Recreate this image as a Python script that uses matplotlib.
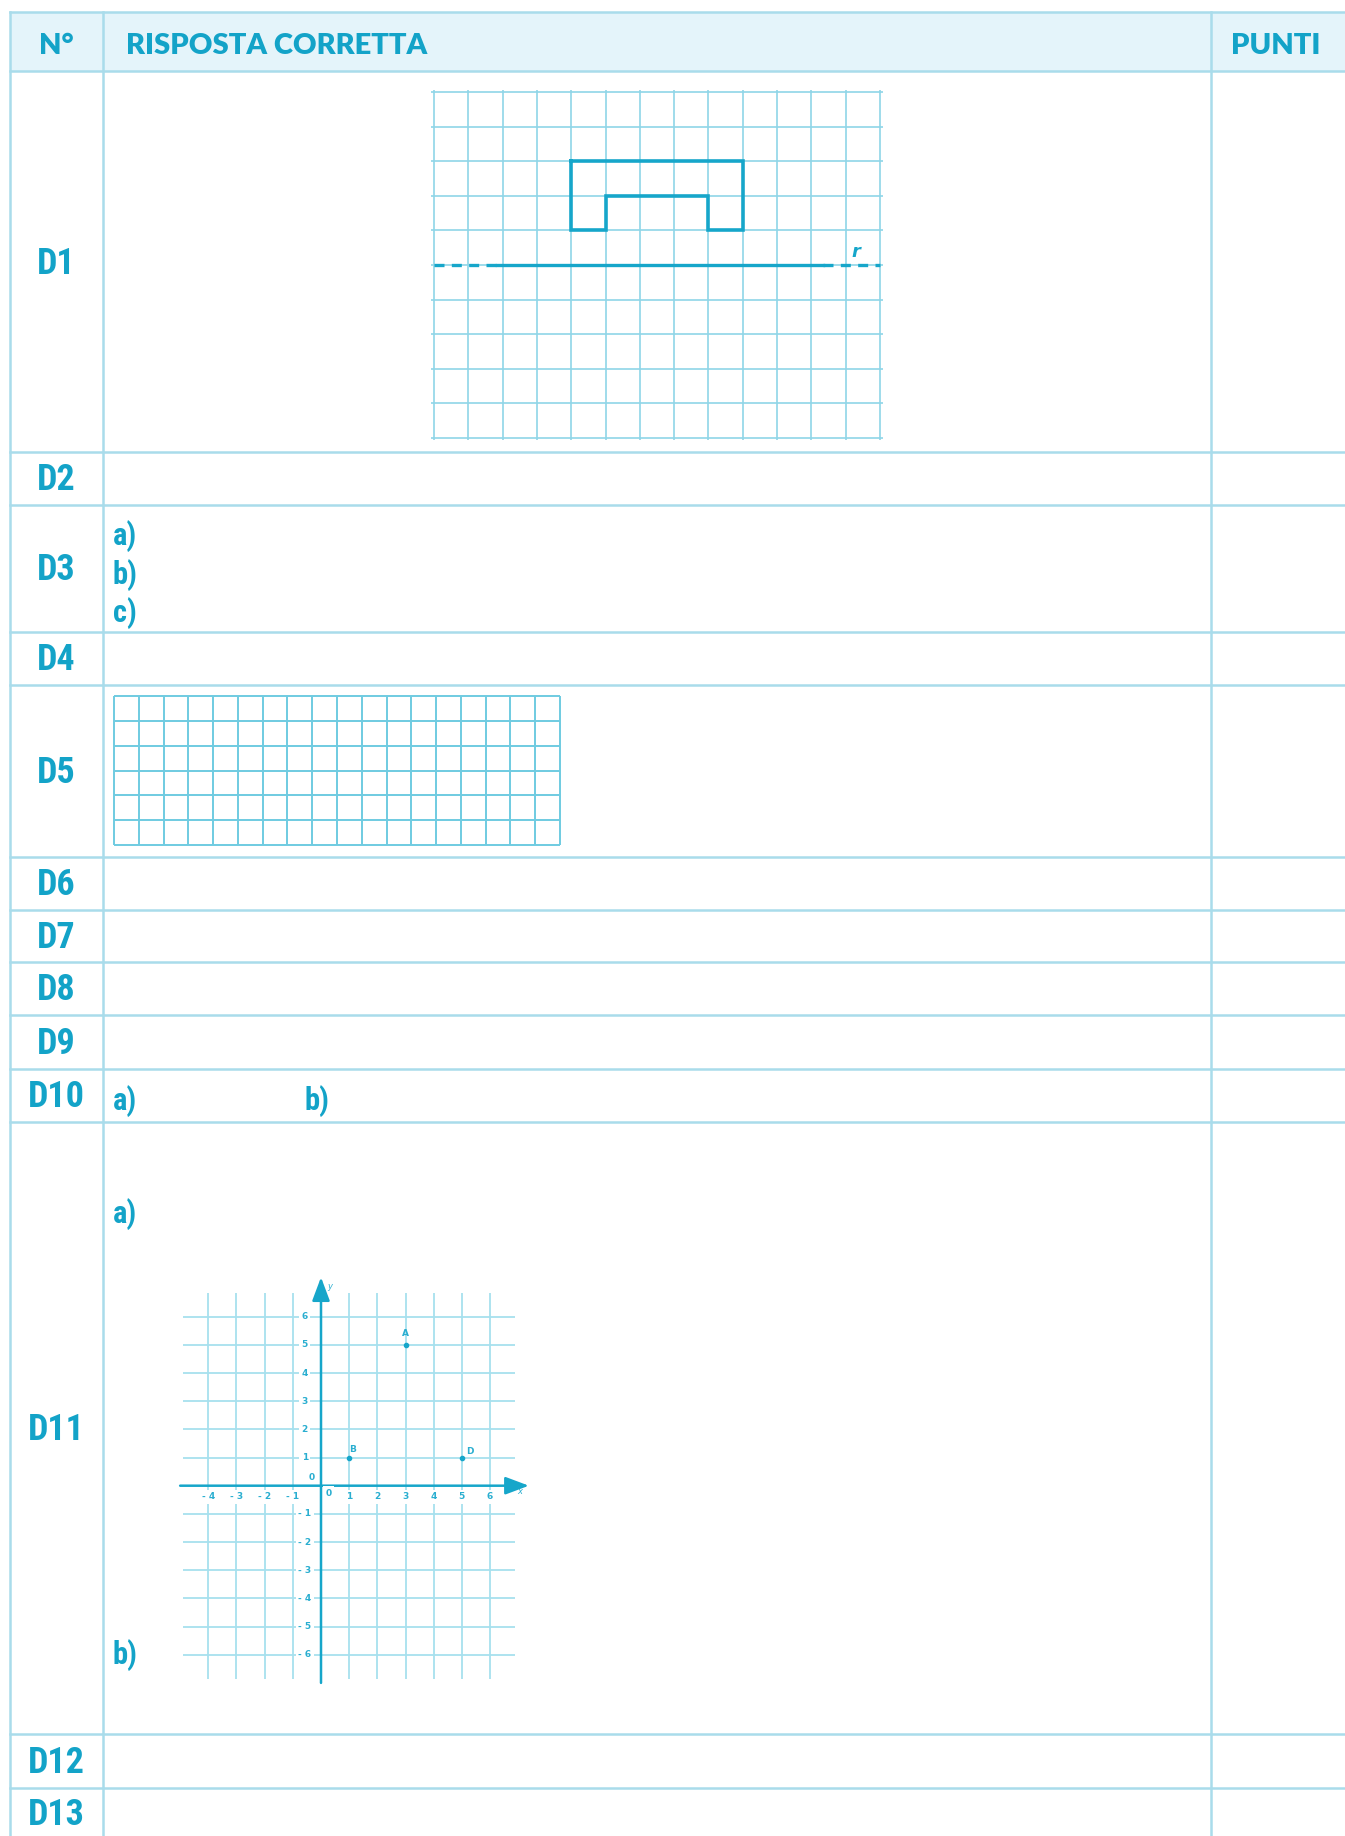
import numpy as np
import matplotlib
matplotlib.use('Agg')
import matplotlib.pyplot as plt

W, H = 1345, 1836

# --- table data ---
header = ['N°', 'RISPOSTA CORRETTA', 'PUNTI']
row_labels = ['D1', 'D2', 'D3', 'D4', 'D5', 'D6', 'D7', 'D8', 'D9', 'D10', 'D11', 'D12', 'D13']
row_edges = [11.5, 71, 452, 504.5, 632, 685, 857, 909.5, 962, 1015, 1068.5, 1121.5, 1734, 1788, 1842]
col_edges = [10, 103, 1211]

# sub answers (text, x px, y px)
sub_labels = ['a)', 'b)', 'c)', 'a)', 'b)', 'a)', 'b)']
sub_x = [113, 113, 113, 113, 305, 113, 113]
sub_y = [535, 574, 612, 1100, 1100, 1213, 1654]

# D1: figure on squared paper (grid units, y up)
d1_cols, d1_rows = 13, 10
d1_shape_x = [4, 9, 9, 8, 8, 5, 5, 4, 4]
d1_shape_y = [8, 8, 6, 6, 7, 7, 6, 6, 8]
d1_axis_y = 5

# D5: empty grid
d5_cols, d5_rows = 18, 6

# D11: cartesian plane
pt_names = ['A', 'B', 'D']
pt_x = [3, 1, 5]
pt_y = [5, 1, 1]
x_ticks = [-4, -3, -2, -1, 1, 2, 3, 4, 5, 6]
y_ticks = [-6, -5, -4, -3, -2, -1, 1, 2, 3, 4, 5, 6]

LINE = '#a9dceb'
HEAD_BG = '#e4f4fa'
TXT = '#13a3c8'
GRID = '#8fd5e8'
DARK = '#16a6ca'

fig = plt.figure(figsize=(W / 100, H / 100), dpi=100)
ax = fig.add_axes([0, 0, 1, 1])
ax.set_xlim(0, W)
ax.set_ylim(H, 0)
ax.axis('off')

# header background
ax.fill_between([col_edges[0], W], row_edges[0], row_edges[1], color=HEAD_BG, lw=0)

# table lines
for y in row_edges[:-1]:
    ax.plot([col_edges[0], W], [y, y], color=LINE, lw=1.8)
for x in col_edges:
    ax.plot([x, x], [row_edges[0], H], color=LINE, lw=1.8)

hdr_font = dict(family=['Lato', 'DejaVu Sans'], weight='heavy', color=TXT, fontsize=21, va='center')
ymid = (row_edges[0] + row_edges[1]) / 2 + 5
ax.text((col_edges[0] + col_edges[1]) / 2, ymid, header[0], ha='center', **hdr_font)
ax.text(126, ymid, header[1], ha='left', **hdr_font)
ax.text(1276, ymid, header[2], ha='center', **hdr_font)

lab_font = dict(family=['Roboto Condensed', 'DejaVu Sans'], weight='bold',
                stretch='condensed', color=TXT)
for i, lab in enumerate(row_labels):
    y0, y1 = row_edges[i + 1], row_edges[i + 2]
    yc = (y0 + y1) / 2 if i < len(row_labels) - 1 else 1813
    ax.text((col_edges[0] + col_edges[1]) / 2, yc + 2, lab, ha='center', va='center',
            fontsize=26, **lab_font)

for s, x, y in zip(sub_labels, sub_x, sub_y):
    ax.text(x, y + 1, s, ha='left', va='center', fontsize=22, **lab_font)


def inset(ox, oy, ux, uy, xlim, ylim):
    left = ox + xlim[0] * ux
    right = ox + xlim[1] * ux
    top = oy - ylim[1] * uy
    bottom = oy - ylim[0] * uy
    a = fig.add_axes([left / W, 1 - bottom / H, (right - left) / W, (bottom - top) / H])
    a.set_xlim(xlim)
    a.set_ylim(ylim)
    a.axis('off')
    return a


# --- D1 ---
a1 = inset(434, 437.7, 34.31, 34.54, (-0.3, d1_cols + 0.3), (-0.3, d1_rows + 0.3))
a1.vlines(np.arange(d1_cols + 1), -0.08, d1_rows + 0.08, color=GRID, lw=1.2)
a1.hlines(np.arange(d1_rows + 1), -0.08, d1_cols + 0.08, color=GRID, lw=1.2)
a1.plot(d1_shape_x, d1_shape_y, color=DARK, lw=2.6, solid_joinstyle='miter')
a1.plot([0, 1.83], [d1_axis_y] * 2, color=DARK, lw=2.4, ls=(0, (3, 2.2)))
a1.plot([1.83, 11.34], [d1_axis_y] * 2, color=DARK, lw=2.4)
a1.plot([11.34, 13], [d1_axis_y] * 2, color=DARK, lw=2.4, ls=(0, (3, 2.2)))
a1.text(12.3, 5.38, 'r', color=DARK, fontsize=13, style='italic', weight='bold',
        ha='center', va='center')

# --- D5 ---
a5 = inset(114, 845, 24.78, 24.83, (-0.2, d5_cols + 0.2), (-0.2, d5_rows + 0.2))
a5.vlines(np.arange(d5_cols + 1), 0, d5_rows, color='#6fcbe1', lw=1.4)
a5.hlines(np.arange(d5_rows + 1), 0, d5_cols, color='#6fcbe1', lw=1.4)

# --- D11 ---
u = 28.17
a11 = inset(321, 1485.7, u, u, (-5.0, 7.6), (-7.2, 7.6))
GL = '#a7e0ee'
a11.hlines(y_ticks, -4.9, 6.9, color=GL, lw=1.3)
a11.vlines(x_ticks, -6.85, 6.85, color=GL, lw=1.3)
arrow = dict(arrowstyle='-|>,head_length=0.8,head_width=0.3', mutation_scale=18,
             lw=1.8, color=DARK, shrinkA=0, shrinkB=0)
a11.annotate('', xy=(7.38, 0), xytext=(-5.0, 0), arrowprops=arrow)
a11.annotate('', xy=(0, 7.4), xytext=(0, -7.0), arrowprops=arrow)

tick_font = dict(color='#2aaed0', fontsize=6.5, weight='bold', ha='center', va='center',
                 bbox=dict(facecolor='white', edgecolor='none', pad=1.8))
for xv in x_ticks:
    a11.text(xv, -0.4, str(xv).replace('-', '- '), zorder=4, **tick_font)
for yv in y_ticks:
    a11.text(-0.58, yv, str(yv).replace('-', '- '), zorder=4, **tick_font)
a11.text(0.27, -0.27, '0', zorder=4, **tick_font)
a11.text(-0.33, 0.3, '0', zorder=4, **tick_font)
a11.text(7.04, -0.21, 'x', color='#2aaed0', fontsize=6, style='italic', ha='center', va='center')
a11.text(0.3, 7.07, 'y', color='#2aaed0', fontsize=6, style='italic', ha='center', va='center')

a11.scatter(pt_x, pt_y, s=9, color=DARK, zorder=5)
offs = {'A': (0, 0.39), 'B': (0.12, 0.3), 'D': (0.27, 0.23)}
for n, xv, yv in zip(pt_names, pt_x, pt_y):
    dx, dy = offs[n]
    a11.text(xv + dx, yv + dy, n, color='#2aaed0', fontsize=6.5, weight='bold',
             ha='center', va='center')

fig.savefig('out.png', dpi=100)
